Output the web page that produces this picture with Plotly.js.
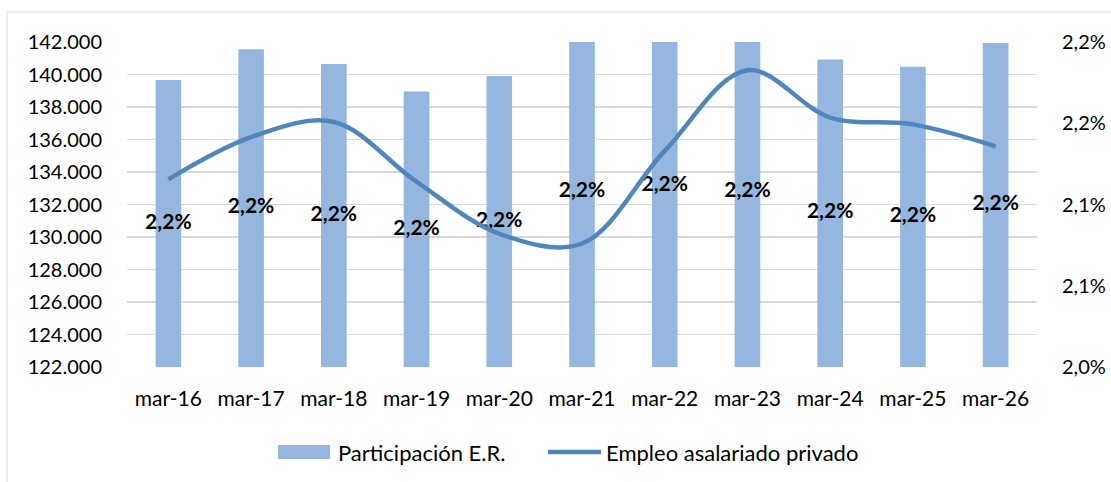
<!DOCTYPE html>
<html>
<head>
<meta charset="utf-8">
<script src="https://cdn.plot.ly/plotly-3.0.1.min.js"></script>
<style>
  html, body { margin: 0; padding: 0; background: #ffffff; }
  #chart { width: 1111px; height: 482px; }
</style>
</head>
<body>
<div id="chart"></div>
<script>
// ---- Data ----
const categories = ['mar-16','mar-17','mar-18','mar-19','mar-20','mar-21','mar-22','mar-23','mar-24','mar-25','mar-26'];
// Participación E.R. (%), right axis
const participacion = [2.1766, 2.1955, 2.1864, 2.1695, 2.1791, 2.2157, 2.2230, 2.2157, 2.1893, 2.1848, 2.1994];
const participacionLabels = ['2,2%','2,2%','2,2%','2,2%','2,2%','2,2%','2,2%','2,2%','2,2%','2,2%','2,2%'];
// Empleo asalariado privado, left axis
const empleo = [133550, 136150, 137080, 133400, 130200, 129600, 135300, 140260, 137350, 136930, 135580];

const leftTicks = [122000,124000,126000,128000,130000,132000,134000,136000,138000,140000,142000];
const rightTickVals = [2.00, 2.05, 2.10, 2.15, 2.20];
const rightTickText = ['2,0%','2,1%','2,1%','2,2%','2,2%'];
const seriesNames = ['Participación E.R.', 'Empleo asalariado privado'];

const rightMin = 2.0, rightMax = 2.2;
const FONT = 'Lato, "Open Sans", sans-serif';
const BAR_COLOR = '#95b7df';
const LINE_COLOR = '#4f87bc';

// helpers to convert pixel placements to paper coords (plot area 127..1037 x 42..367)
const px = v => (v - 127) / 910;
const py = v => (367 - v) / 325;

const traces = [
  {
    type: 'bar',
    name: seriesNames[0],
    x: categories,
    y: participacion,
    yaxis: 'y',
    marker: { color: BAR_COLOR },
    width: 0.31,
    hoverinfo: 'skip',
    showlegend: false
  },
  {
    type: 'scatter',
    mode: 'text',
    x: categories,
    y: participacion.map(v => (rightMin + v) / 2),
    yaxis: 'y',
    text: participacionLabels,
    textposition: 'middle center',
    textfont: { family: FONT, size: 21, color: '#000000', weight: 'bold' },
    showlegend: false,
    hoverinfo: 'skip',
    cliponaxis: false
  },
  {
    type: 'scatter',
    mode: 'lines',
    name: seriesNames[1],
    x: categories,
    y: empleo,
    yaxis: 'y2',
    line: { color: LINE_COLOR, width: 4.5, shape: 'spline', smoothing: 1.0 },
    hoverinfo: 'skip',
    showlegend: false
  }
];

const layout = {
  width: 1111,
  height: 482,
  margin: { l: 127, r: 74, t: 42, b: 115 },
  paper_bgcolor: '#ffffff',
  plot_bgcolor: 'rgba(0,0,0,0)',
  separators: ',.',
  font: { family: FONT, size: 20, color: '#000000' },
  showlegend: false,
  xaxis: {
    type: 'category',
    range: [-0.5, 10.5],
    showgrid: false,
    showline: false,
    ticks: '',
    ticklabelstandoff: 17,
    tickfont: { family: FONT, size: 21, color: '#000000' },
    fixedrange: true
  },
  yaxis: {
    side: 'right',
    range: [rightMin, rightMax],
    tickvals: rightTickVals,
    ticktext: rightTickText,
    showgrid: false,
    zeroline: false,
    ticks: '',
    ticklabelstandoff: 24,
    tickfont: { family: FONT, size: 20, color: '#000000' },
    fixedrange: true
  },
  yaxis2: {
    overlaying: 'y',
    side: 'left',
    range: [122000, 142000],
    tickvals: leftTicks,
    tickformat: ',d',
    showgrid: true,
    gridcolor: '#d9d9d9',
    gridwidth: 1.5,
    zeroline: false,
    ticks: '',
    ticklabelstandoff: 24,
    tickfont: { family: FONT, size: 20, color: '#000000' },
    fixedrange: true
  },
  shapes: [
    {
      type: 'rect', xref: 'paper', yref: 'paper',
      x0: px(7), x1: 1.2,
      y0: -0.6, y1: py(12),
      line: { color: '#d9d9d9', width: 1 },
      fillcolor: 'rgba(0,0,0,0)',
      layer: 'below'
    },
    // legend symbols
    {
      type: 'rect', xref: 'paper', yref: 'paper',
      x0: px(278), x1: px(330), y0: py(459), y1: py(445),
      line: { width: 0 }, fillcolor: BAR_COLOR
    },
    {
      type: 'line', xref: 'paper', yref: 'paper',
      x0: px(548), x1: px(601), y0: py(452), y1: py(452),
      line: { color: LINE_COLOR, width: 4.5 }
    }
  ],
  annotations: [
    {
      xref: 'paper', yref: 'paper', x: px(336), y: py(452),
      xanchor: 'left', yanchor: 'middle', showarrow: false,
      text: seriesNames[0], font: { family: FONT, size: 22, color: '#000000' }
    },
    {
      xref: 'paper', yref: 'paper', x: px(604), y: py(452),
      xanchor: 'left', yanchor: 'middle', showarrow: false,
      text: seriesNames[1], font: { family: FONT, size: 22, color: '#000000' }
    }
  ]
};

Plotly.newPlot('chart', traces, layout, { displayModeBar: false, staticPlot: true });
</script>
</body>
</html>
